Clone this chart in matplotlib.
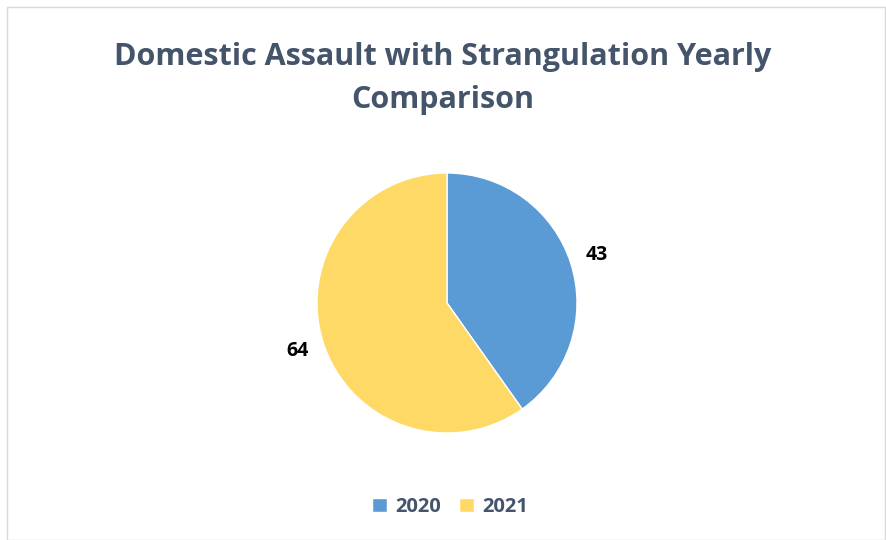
import matplotlib.pyplot as plt
from matplotlib.patches import Rectangle

years = ['2020', '2021']
counts = [43, 64]
colors = ['#5B9BD5', '#FFD966']
text_color = '#44546A'

plt.rcParams['font.family'] = ['Open Sans', 'DejaVu Sans']

fig = plt.figure(figsize=(8.86, 5.4), dpi=100)

# light frame round the chart area
fig.patches.append(Rectangle((7 / 886, 0), 878 / 886, 533 / 540, transform=fig.transFigure,
                             fill=False, edgecolor='#D9D9D9', linewidth=1))

fig.text(0.5, 0.855, 'Domestic Assault with Strangulation Yearly\nComparison',
         ha='center', va='center', fontsize=22, fontweight='bold', color=text_color,
         linespacing=1.55)

ax = fig.add_axes([317 / 886, 107 / 540, 260 / 886, 260 / 540])
wedges, texts = ax.pie(counts, colors=colors, startangle=90, counterclock=False,
                       labels=[str(c) for c in counts], labeldistance=1.21,
                       wedgeprops=dict(edgecolor='white', linewidth=1),
                       textprops=dict(fontsize=14, fontweight='bold', color='black'))
for t in texts:
    t.set_ha('center')
    t.set_va('center')
ax.set_xlim(-1, 1)
ax.set_ylim(-1, 1)
ax.set_aspect('equal')

leg = fig.legend(wedges, years, loc='center', bbox_to_anchor=(0.508, 0.061), ncol=2,
                 frameon=False, handlelength=0.75, handleheight=0.75, handletextpad=0.4,
                 columnspacing=0.9, prop=dict(size=14.5, weight='bold'))
for t in leg.get_texts():
    t.set_color(text_color)

fig.savefig('out.png', dpi=100, facecolor='white')
